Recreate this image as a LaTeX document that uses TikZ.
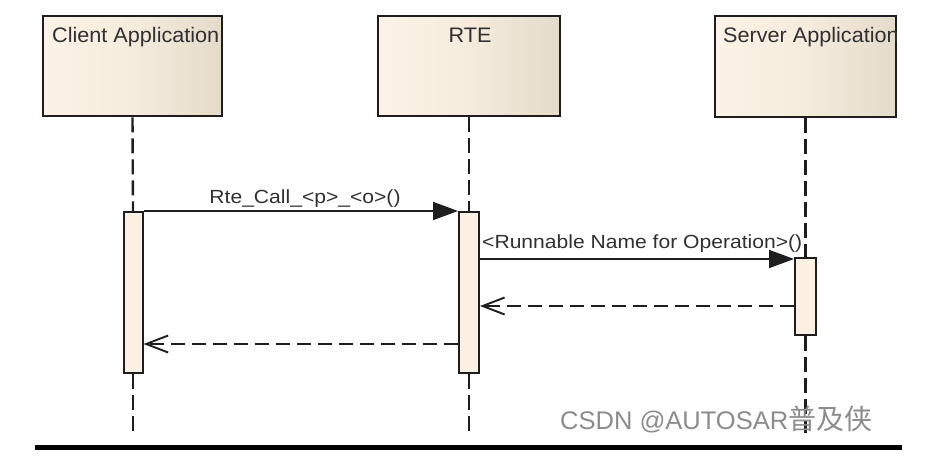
\documentclass[tikz,border=0pt]{standalone}
\usepackage{fontspec}
\usepackage{graphicx}
\setmainfont{Liberation Sans}
\newfontfamily\cjkfont{Noto Sans CJK SC}
\usetikzlibrary{arrows.meta,calc}
\definecolor{boxL}{HTML}{FCF3E6}
\definecolor{boxR}{HTML}{E4DBCA}
\definecolor{barfill}{HTML}{FBF0E1}
\definecolor{ink}{HTML}{1E1E1E}
\definecolor{txt}{HTML}{303030}
\definecolor{wm}{HTML}{8C8C8C}
\newcommand\boxlab[1]{\scalebox{1.03}[1]{\fontsize{21}{21}\selectfont #1}}
\newcommand\msglab[1]{\scalebox{1.11}[1]{\fontsize{19}{19}\selectfont #1}}
\begin{document}
\begin{tikzpicture}[x=1pt,y=-1pt,
  lifebox/.style={rectangle,draw=ink,line width=2.6pt,inner sep=0pt,
    left color=boxL,right color=boxR,middle color=boxL!70!boxR},
  actbar/.style={rectangle,draw=ink,line width=2pt,inner sep=0pt,fill=barfill,minimum width=19pt},
  lifeline/.style={draw=ink,line width=2.4pt,dash pattern=on 15pt off 6pt},
  callmsg/.style={draw=ink,line width=1.9pt,-{Triangle[length=25pt,width=18pt]}},
  retmsg/.style={draw=ink,line width=1.9pt,dash pattern=on 14pt off 7pt,
    -{Straight Barb[length=22pt,width=17pt,line width=1.9pt]}},
  lab/.style={inner sep=0pt,text=txt,anchor=base west},
]
\useasboundingbox (0,0) rectangle (947,471);

% lifeline heads
\node[lifebox,minimum width=179pt,minimum height=100pt] (cl) at (132.5,66) {};
\node[lifebox,minimum width=182pt,minimum height=100pt] (rte) at (469,66) {};
\node[lifebox,minimum width=181pt,minimum height=101pt] (sv) at (805.5,66.5) {};

\begin{scope}
  \clip (cl.south west) rectangle ([xshift=-1.3pt]cl.north east);
  \node[lab] (cllab) at (52,42) {\boxlab{Client Application}};
\end{scope}
\node[lab,anchor=base] (rtelab) at (470,42) {\boxlab{RTE}};
\begin{scope}
  \clip (sv.south west) rectangle ([xshift=-1.3pt]sv.north east);
  \node[lab] (svlab) at (723,42) {\boxlab{Server Application}};
\end{scope}

% activation bars
\node[actbar,minimum height=161pt] (cbar) at (133,292.5) {};
\node[actbar,minimum height=161pt,minimum width=20pt] (rbar) at (469,292.5) {};
\node[actbar,minimum height=77pt,minimum width=21pt] (sbar) at (805.5,296.5) {};

% lifeline ends
\coordinate (cend) at (133,433);
\coordinate (rend) at (469,433);
\coordinate (send) at (805.5,433);

\path[lifeline] (cl.south) -- (cbar.north);
\path[lifeline] (cbar.south) -- (cend);
\path[lifeline] (rte.south) -- (rbar.north);
\path[lifeline] (rbar.south) -- (rend);
\path[lifeline] (sv.south) -- (sbar.north);
\path[lifeline] (sbar.south) -- (send);

% messages
\coordinate (m2) at (0,259);
\coordinate (m3) at (0,306);
\coordinate (m4) at (0,344);
\path[callmsg] (cbar.north east) -- (rbar.north west);
\path[callmsg] (rbar.east |- m2) -- (sbar.west |- m2);
\path[retmsg] (sbar.west |- m3) -- (rbar.east |- m3);
\path[retmsg] (rbar.west |- m4) -- (cbar.east |- m4);

\node[lab,anchor=base] (l1) at (305,203) {\msglab{Rte\_Call\_<p>\_<o>()}};
\node[lab] (l2) at (482,248) {\msglab{<Runnable Name for Operation>()}};

% watermark and bottom rule
\node[lab,text=wm] (wmk) at (560,429) {\fontsize{25.5}{25.5}\selectfont CSDN @AUTOSAR{\cjkfont\fontsize{28}{28}\selectfont 普及侠}};
\fill[black] (35,445) rectangle (902,450);
\end{tikzpicture}
\end{document}
